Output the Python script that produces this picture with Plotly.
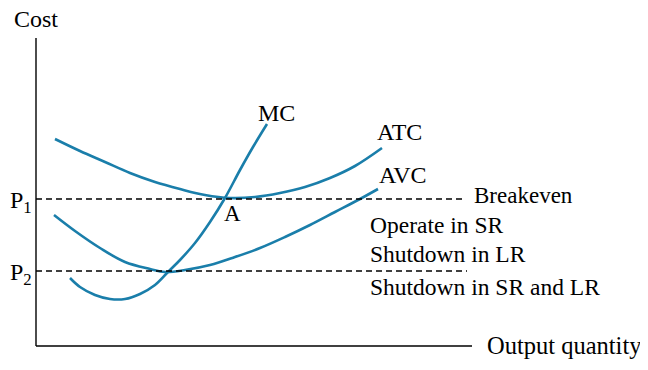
import plotly.graph_objects as go

# Data coordinates: x = output quantity, y = cost (arbitrary units)
atc_x = [19, 44, 69, 94, 119, 144, 169, 194, 219, 244, 269, 294, 319, 346]
atc_y = [207, 195, 184, 173, 164, 157, 151, 148, 149, 153, 159, 168, 180, 198]

avc_x = [18, 39, 64, 89, 114, 129, 149, 174, 199, 224, 249, 274, 299, 324, 342]
avc_y = [131, 115, 98, 84, 77, 74, 76, 81, 89, 98, 109, 121, 134, 147, 157]

mc_x = [34, 44, 59, 74, 89, 104, 119, 132, 144, 159, 174, 189, 204, 217, 231]
mc_y = [68, 59, 51, 47, 47, 52, 61, 74, 86, 103, 124, 148, 176, 199, 222]

price_levels = [147, 75]          # P1 (breakeven), P2 (shutdown)
price_labels = ["P<sub>1</sub>", "P<sub>2</sub>"]
level_end_x = [430, 431]

axis_len_x = 436
axis_len_y = 308

curve_color = "#1a7eaa"
font_family = "Liberation Serif, Times New Roman, serif"

fig = go.Figure()

for xs, ys in [(atc_x, atc_y), (avc_x, avc_y), (mc_x, mc_y)]:
    fig.add_trace(go.Scatter(x=xs, y=ys, mode="lines",
                             line=dict(color=curve_color, width=2.6, shape="spline", smoothing=1.0),
                             hoverinfo="skip", showlegend=False))

for lvl, xe in zip(price_levels, level_end_x):
    fig.add_trace(go.Scatter(x=[0, xe], y=[lvl, lvl], mode="lines",
                             line=dict(color="black", width=1.5, dash="6px,4px"),
                             hoverinfo="skip", showlegend=False))

# axes
fig.add_trace(go.Scatter(x=[0, 0], y=[axis_len_y, 0], mode="lines", line=dict(color="black", width=1.4),
                         hoverinfo="skip", showlegend=False))
fig.add_trace(go.Scatter(x=[0, axis_len_x], y=[0, 0], mode="lines", line=dict(color="black", width=1.4),
                         hoverinfo="skip", showlegend=False))

def label(text, x, y, size=23):
    fig.add_annotation(x=x, y=y, text=text, showarrow=False, xanchor="left", yanchor="middle",
                       font=dict(family=font_family, size=size, color="black"))

label("Cost", -24, 327, 24)
label("Output quantity", 449, 1, 24.5)
label("MC", 220, 233, 24)
label("ATC", 339, 214, 24)
label("AVC", 341, 171, 24)
label("A", 186, 133, 23)
label("Breakeven", 436, 151)
label("Operate in SR", 332, 121, 23.5)
label("Shutdown in LR", 332, 92, 23.5)
label("Shutdown in SR and LR", 332, 59, 23.5)
for txt, lvl in zip(price_labels, price_levels):
    label(txt, -28, lvl - 3, 24)

fig.update_layout(
    width=640, height=362,
    margin=dict(l=0, r=0, t=0, b=0),
    paper_bgcolor="white", plot_bgcolor="white",
    xaxis=dict(range=[-28, 612], visible=False, fixedrange=True),
    yaxis=dict(range=[-24, 338], visible=False, fixedrange=True),
)

fig.write_html("out.html")
